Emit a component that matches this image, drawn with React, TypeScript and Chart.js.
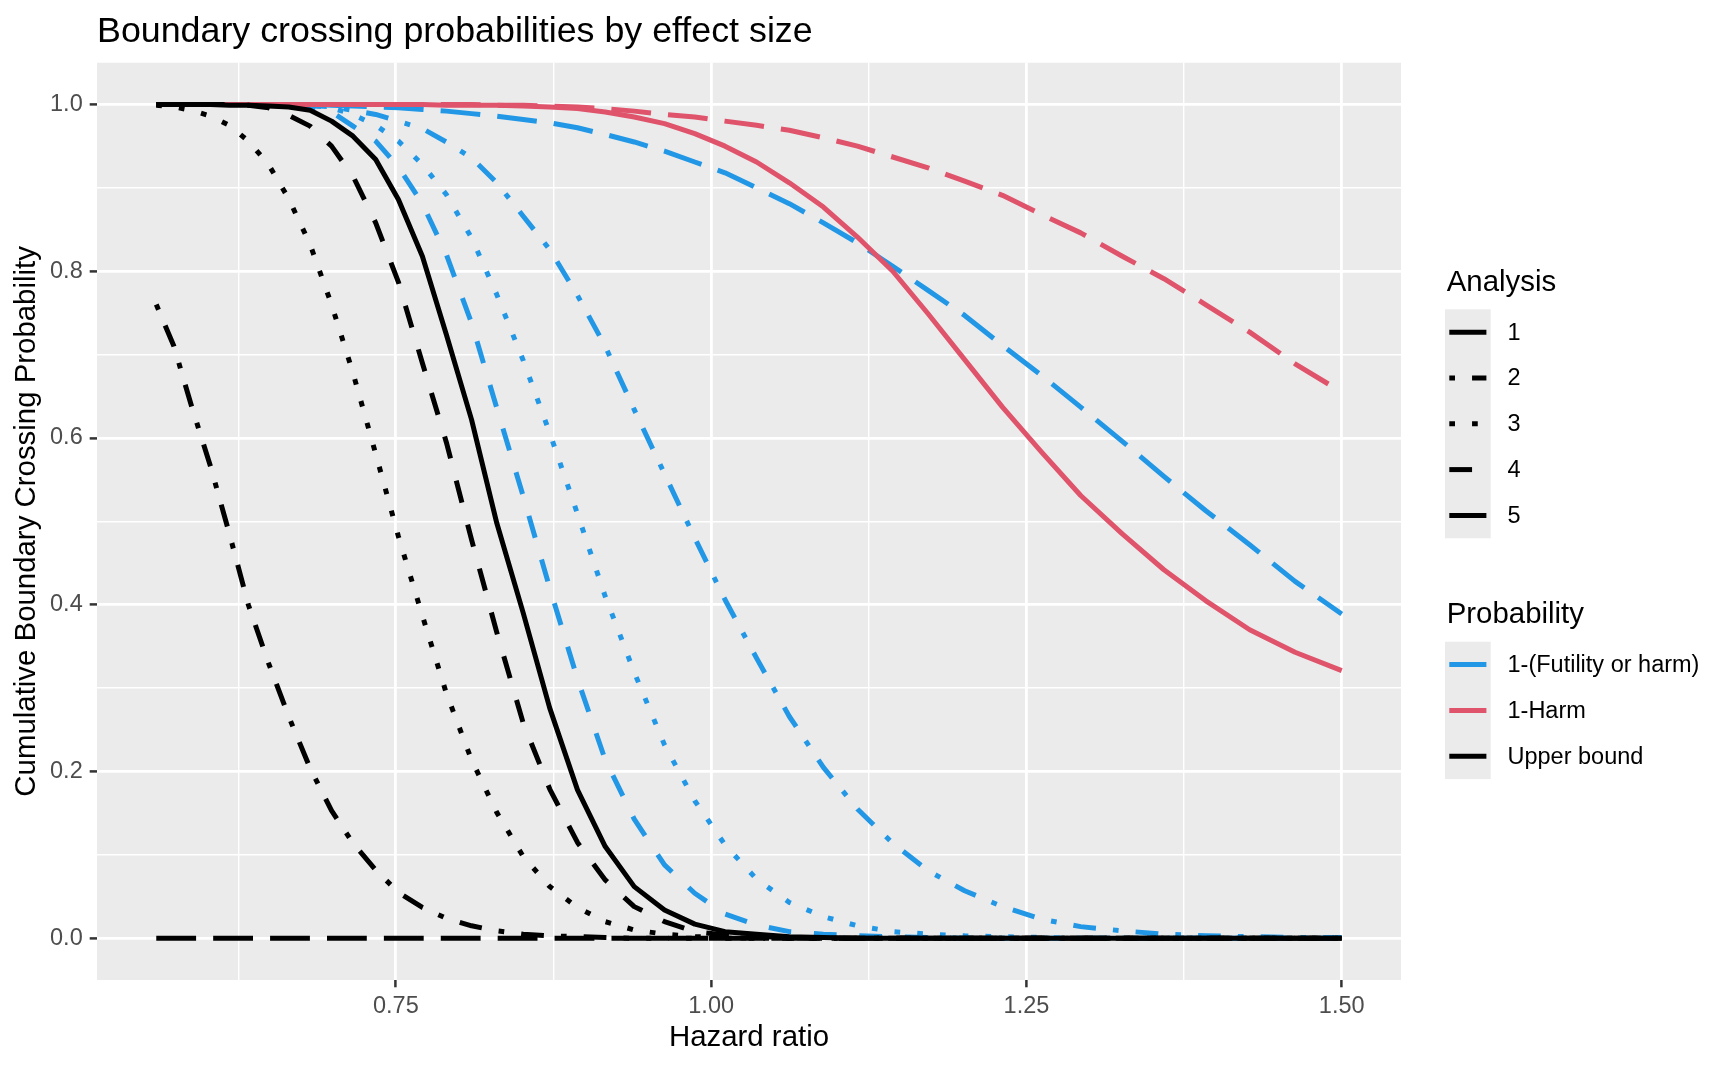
import { useEffect, useRef } from 'react';
import { Chart, registerables } from 'chart.js';

Chart.register(...registerables);

const FONT = '"Liberation Sans", Arial, Helvetica, sans-serif';
const BLUE = '#2297E6';
const RED = '#DF536B';
const BLACK = '#000000';

// hazard ratios at which the probabilities are evaluated
const hazardRatio = [
  0.560, 0.574, 0.588, 0.603, 0.618, 0.633, 0.649, 0.665, 0.682, 0.699,
  0.716, 0.734, 0.752, 0.771, 0.790, 0.810, 0.830, 0.851, 0.872, 0.894,
  0.916, 0.939, 0.963, 0.987, 1.011, 1.036, 1.062, 1.089, 1.116, 1.144,
  1.172, 1.201, 1.231, 1.262, 1.293, 1.326, 1.359, 1.392, 1.427, 1.463,
  1.500,
];

// Upper bound, by analysis
const upperA1 = [
  1.000, 1.000, 1.000, 1.000, 0.999, 0.999, 0.998, 0.997, 0.993, 0.980,
  0.962, 0.934, 0.886, 0.818, 0.724, 0.622, 0.498, 0.390, 0.276, 0.178,
  0.110, 0.062, 0.034, 0.017, 0.008, 0.005, 0.002, 0.001, 0, 0,
  0, 0, 0, 0, 0, 0, 0, 0, 0, 0,
  0,
];
const upperA2 = [
  0.760, 0.710, 0.638, 0.566, 0.485, 0.400, 0.330, 0.266, 0.204, 0.153,
  0.114, 0.082, 0.055, 0.037, 0.024, 0.015, 0.009, 0.005, 0.003, 0.002,
  0.001, 0, 0, 0, 0, 0, 0, 0, 0, 0,
  0, 0, 0, 0, 0, 0, 0, 0, 0, 0,
  0,
];
const upperA3 = [
  0.999, 0.997, 0.993, 0.986, 0.975, 0.956, 0.928, 0.887, 0.832, 0.760,
  0.678, 0.581, 0.482, 0.387, 0.294, 0.214, 0.151, 0.098, 0.062, 0.037,
  0.020, 0.010, 0.005, 0.002, 0.001, 0, 0, 0, 0, 0,
  0, 0, 0, 0, 0, 0, 0, 0, 0, 0,
  0,
];
const upperA4 = [
  1.000, 1.000, 1.000, 1.000, 1.000, 0.999, 0.996, 0.987, 0.974, 0.950,
  0.914, 0.858, 0.787, 0.690, 0.595, 0.478, 0.367, 0.258, 0.179, 0.115,
  0.070, 0.038, 0.020, 0.008, 0.004, 0.002, 0.001, 0, 0, 0,
  0, 0, 0, 0, 0, 0, 0, 0, 0, 0,
  0,
];
const upperA5 = [
  0, 0, 0, 0, 0, 0, 0, 0, 0, 0,
  0, 0, 0, 0, 0, 0, 0, 0, 0, 0,
  0, 0, 0, 0, 0, 0, 0, 0, 0, 0,
  0, 0, 0, 0, 0, 0, 0, 0, 0, 0,
  0,
];

// 1-(Futility or harm), by analysis
const futilityA2 = [
  1.000, 1.000, 1.000, 1.000, 1.000, 1.000, 1.000, 1.000, 0.999, 0.997,
  0.993, 0.988, 0.980, 0.971, 0.955, 0.936, 0.906, 0.866, 0.826, 0.771,
  0.710, 0.634, 0.557, 0.480, 0.406, 0.336, 0.266, 0.205, 0.155, 0.114,
  0.081, 0.057, 0.038, 0.023, 0.014, 0.009, 0.005, 0.003, 0.002, 0.001,
  0.001,
];
const futilityA3 = [
  1.000, 1.000, 1.000, 1.000, 1.000, 1.000, 1.000, 1.000, 0.999, 0.996,
  0.988, 0.975, 0.956, 0.928, 0.892, 0.840, 0.772, 0.693, 0.606, 0.509,
  0.410, 0.319, 0.232, 0.165, 0.112, 0.071, 0.043, 0.026, 0.015, 0.008,
  0.005, 0.003, 0.002, 0.001, 0, 0, 0, 0, 0, 0,
  0,
];
const futilityA4 = [
  1.000, 1.000, 1.000, 1.000, 1.000, 1.000, 0.999, 0.998, 0.996, 0.991,
  0.974, 0.956, 0.925, 0.881, 0.820, 0.738, 0.636, 0.530, 0.420, 0.311,
  0.214, 0.143, 0.088, 0.054, 0.029, 0.016, 0.008, 0.005, 0.003, 0.002,
  0.001, 0, 0, 0, 0, 0, 0, 0, 0, 0,
  0,
];
const futilityA5 = [
  1.000, 1.000, 1.000, 1.000, 1.000, 1.000, 1.000, 1.000, 1.000, 0.999,
  0.998, 0.997, 0.996, 0.994, 0.992, 0.989, 0.986, 0.982, 0.978, 0.972,
  0.964, 0.955, 0.944, 0.931, 0.918, 0.900, 0.881, 0.858, 0.834, 0.806,
  0.777, 0.747, 0.711, 0.675, 0.637, 0.596, 0.554, 0.513, 0.472, 0.428,
  0.389,
];

// 1-Harm, by analysis
const harmA1 = [
  1.000, 1.000, 1.000, 1.000, 1.000, 1.000, 1.000, 1.000, 1.000, 1.000,
  1.000, 1.000, 1.000, 1.000, 0.999, 0.999, 0.999, 0.998, 0.997, 0.995,
  0.991, 0.985, 0.977, 0.965, 0.950, 0.931, 0.906, 0.877, 0.841, 0.800,
  0.749, 0.694, 0.637, 0.583, 0.531, 0.485, 0.442, 0.405, 0.370, 0.343,
  0.321,
];
const harmA5 = [
  1.000, 1.000, 1.000, 1.000, 1.000, 1.000, 1.000, 1.000, 1.000, 1.000,
  1.000, 1.000, 1.000, 1.000, 1.000, 1.000, 0.999, 0.999, 0.998, 0.997,
  0.995, 0.992, 0.988, 0.985, 0.980, 0.975, 0.969, 0.960, 0.950, 0.937,
  0.924, 0.908, 0.891, 0.868, 0.846, 0.818, 0.791, 0.760, 0.727, 0.689,
  0.655,
];

const xTicks = [0.625, 0.75, 0.875, 1.0, 1.125, 1.25, 1.375, 1.5];
const xMajor = [0.75, 1.0, 1.25, 1.5];
const xTickLabels = ['0.75', '1.00', '1.25', '1.50'];
const yTicks = [0, 0.1, 0.2, 0.3, 0.4, 0.5, 0.6, 0.7, 0.8, 0.9, 1.0];
const yMajor = [0, 0.2, 0.4, 0.6, 0.8, 1.0];
const yTickLabels = ['0.0', '0.2', '0.4', '0.6', '0.8', '1.0'];

const analysisLabels = ['1', '2', '3', '4', '5'];
const probabilityLabels = ['1-(Futility or harm)', '1-Harm', 'Upper bound'];
const probabilityColors = [BLUE, RED, BLACK];

// ggplot-style line types, in units of the line width
const U = 5.69;
const lineTypes: number[][] = [
  [],
  [U, 3 * U, 4 * U, 3 * U],
  [U, 3 * U],
  [4 * U, 4 * U],
  [7 * U, 3 * U],
];
const LW = 5;

const majorIndex = (list: number[], v: number) => list.findIndex((m) => Math.abs(m - v) < 1e-9);

const panelBg = {
  id: 'panelBg',
  beforeDraw(chart: any) {
    const { ctx, chartArea: a } = chart;
    ctx.save();
    ctx.fillStyle = '#EBEBEB';
    ctx.fillRect(a.left, a.top, a.right - a.left, a.bottom - a.top);
    ctx.restore();
  },
};

const ggLegend = {
  id: 'ggLegend',
  afterDraw(chart: any) {
    const ctx = chart.ctx;
    const keyX = 1445;
    const keyW = 45.7;
    const keyH = 45.8;
    const drawGroup = (title: string, titleBase: number, top: number, labels: string[], dash: (i: number) => number[], color: (i: number) => string) => {
      ctx.font = `29.4px ${FONT}`;
      ctx.fillStyle = '#000';
      ctx.textBaseline = 'alphabetic';
      ctx.textAlign = 'left';
      ctx.fillText(title, 1446.7, titleBase);
      ctx.fillStyle = '#EBEBEB';
      ctx.fillRect(keyX, top, keyW, keyH * labels.length);
      labels.forEach((lab, i) => {
        const cy = top + keyH * (i + 0.5);
        ctx.save();
        ctx.strokeStyle = color(i);
        ctx.lineWidth = LW;
        ctx.lineCap = 'butt';
        ctx.setLineDash(dash(i));
        ctx.beginPath();
        ctx.moveTo(keyX + 4.3, cy);
        ctx.lineTo(keyX + keyW - 4.3, cy);
        ctx.stroke();
        ctx.restore();
        ctx.font = `23.5px ${FONT}`;
        ctx.fillStyle = '#000';
        ctx.textBaseline = 'middle';
        ctx.fillText(lab, 1507.5, cy + 1);
      });
    };
    ctx.save();
    drawGroup('Analysis', 290.7, 309.3, analysisLabels, (i) => lineTypes[i], () => BLACK);
    drawGroup('Probability', 623.3, 641.7, probabilityLabels, () => [], (i) => probabilityColors[i]);
    ctx.restore();
  },
};

const line = (values: number[], color: string, type: number) => ({
  data: hazardRatio.map((x, i) => ({ x, y: values[i] })),
  borderColor: color,
  borderWidth: LW,
  borderDash: lineTypes[type - 1],
  borderCapStyle: 'butt' as const,
  borderJoinStyle: 'round' as const,
  pointRadius: 0,
  fill: false,
  tension: 0,
});

const App = () => {
  const chartRef = useRef<HTMLCanvasElement | null>(null);

  useEffect(() => {
    const ctx = chartRef.current;
    if (!ctx) return;

    Chart.defaults.font.family = FONT;

    const newChart = new Chart(ctx, {
      type: 'line',
      data: {
        datasets: [
          line(upperA1, BLACK, 1),
          line(upperA2, BLACK, 2),
          line(upperA3, BLACK, 3),
          line(upperA4, BLACK, 4),
          line(upperA5, BLACK, 5),
          line(harmA1, RED, 1),
          line(harmA5, RED, 5),
          line(futilityA2, BLUE, 2),
          line(futilityA3, BLUE, 3),
          line(futilityA4, BLUE, 4),
          line(futilityA5, BLUE, 5),
        ],
      },
      options: {
        responsive: true,
        maintainAspectRatio: false,
        animation: false,
        events: [],
        layout: { padding: { left: 0, top: 0, right: 327, bottom: 0 } },
        scales: {
          x: {
            type: 'linear',
            min: 0.513,
            max: 1.547,
            afterBuildTicks: (scale: any) => {
              scale.ticks = xTicks.map((value) => ({ value }));
            },
            afterFit: (scale: any) => {
              scale.height = 87;
            },
            border: { display: false },
            grid: {
              color: '#FFFFFF',
              lineWidth: (c: any) => (majorIndex(xMajor, c.tick.value) >= 0 ? 2.8 : 1.4),
              tickLength: 7.3,
              tickWidth: 2.5,
              tickColor: (c: any) => (majorIndex(xMajor, c.tick.value) >= 0 ? '#333333' : 'rgba(0,0,0,0)'),
            },
            ticks: {
              autoSkip: false,
              maxRotation: 0,
              minRotation: 0,
              padding: 5,
              color: '#4D4D4D',
              font: { size: 23.5 },
              callback: (v: any) => {
                const i = majorIndex(xMajor, Number(v));
                return i >= 0 ? xTickLabels[i] : '';
              },
            },
            title: {
              display: true,
              text: 'Hazard ratio',
              color: '#000',
              font: { size: 29.4 },
              padding: { top: 0, bottom: 11.7 },
            },
          },
          y: {
            type: 'linear',
            min: -0.05,
            max: 1.05,
            afterBuildTicks: (scale: any) => {
              scale.ticks = yTicks.map((value) => ({ value }));
            },
            afterFit: (scale: any) => {
              scale.width = 97;
            },
            border: { display: false },
            grid: {
              color: '#FFFFFF',
              lineWidth: (c: any) => (majorIndex(yMajor, c.tick.value) >= 0 ? 2.8 : 1.4),
              tickLength: 7.3,
              tickWidth: 2.5,
              tickColor: (c: any) => (majorIndex(yMajor, c.tick.value) >= 0 ? '#333333' : 'rgba(0,0,0,0)'),
            },
            ticks: {
              autoSkip: false,
              padding: 7,
              color: '#4D4D4D',
              font: { size: 23.5 },
              callback: (v: any) => {
                const i = majorIndex(yMajor, Number(v));
                return i >= 0 ? yTickLabels[i] : '';
              },
            },
            title: {
              display: true,
              text: 'Cumulative Boundary Crossing Probability',
              color: '#000',
              font: { size: 29.4 },
              padding: { top: 9.4, bottom: 0 },
            },
          },
        },
        plugins: {
          legend: { display: false },
          tooltip: { enabled: false },
          title: {
            display: true,
            text: 'Boundary crossing probabilities by effect size',
            align: 'start',
            fullSize: false,
            color: '#000',
            font: { size: 35.8, weight: 'normal' },
            padding: { top: 10.2, bottom: 9.6 },
          },
        },
      },
      plugins: [panelBg, ggLegend],
    } as any);

    return () => {
      newChart.destroy();
    };
  }, []);

  return (
    <div style={{ position: 'fixed', left: 0, top: 0, width: 1728, height: 1067, background: '#fff' }}>
      <canvas ref={chartRef} id="boundary-chart"></canvas>
    </div>
  );
};

export default App;
